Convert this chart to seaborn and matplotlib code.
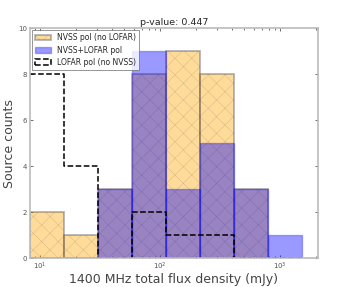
import numpy as np
import pandas as pd
import seaborn as sns
import matplotlib.pyplot as plt
from matplotlib.patches import Patch

# bin edges (mJy), equally spaced in log
bin_edges = [8.26, 15.8, 30.3, 58.2, 111.5, 213.8, 409.3, 785.2, 1506.0]
nvss_only = [2, 1, 3, 8, 9, 8, 3, 0]
nvss_lofar = [0, 0, 3, 9, 3, 5, 3, 1]
lofar_only = [8, 4, 0, 2, 1, 1, 0, 0]

centers = np.sqrt(np.array(bin_edges[:-1]) * np.array(bin_edges[1:]))
df = pd.DataFrame({'flux': centers, 'nvss': nvss_only,
                   'both': nvss_lofar, 'lofar': lofar_only})
log_edges = [float(v) for v in np.log10(bin_edges)]

sns.set_style("ticks")
plt.rcParams['hatch.linewidth'] = 0.2

fig = plt.figure(figsize=(3.54, 2.87), dpi=100)
ax = fig.add_axes([0.085, 0.101, 0.813, 0.801])

sns.histplot(data=df, x='flux', weights='nvss', bins=log_edges, log_scale=True,
             color='orange', alpha=0.4, edgecolor=(0.35, 0.35, 0.35, 0.45), linewidth=1.3,
             hatch='xx', label='NVSS pol (no LOFAR)', ax=ax)
sns.histplot(data=df, x='flux', weights='both', bins=log_edges, log_scale=True,
             color='blue', alpha=0.4, edgecolor=(0.0, 0.0, 1.0, 0.3), linewidth=1.0,
             label='NVSS+LOFAR pol', ax=ax)
sns.histplot(data=df, x='flux', weights='lofar', bins=log_edges, log_scale=True,
             element='step', fill=False, color='black', linestyle='--',
             linewidth=1.1, ax=ax)

ax.set_xlim(8.26, 2056)
ax.set_ylim(0, 10)
ax.set_title('p-value: 0.447', fontsize=6.8, pad=2)
ax.set_xlabel('1400 MHz total flux density (mJy)', fontsize=9, color='#444444', labelpad=1)
ax.set_ylabel('Source counts', fontsize=9, color='#444444', labelpad=2)
ax.tick_params(labelsize=5, colors='#555555', length=2, width=0.6, which='both',
               top=True, right=True, direction='in', pad=2)
ax.tick_params(which='minor', length=1.5)
ax.set_yticks([0, 2, 4, 6, 8, 10])
for s in ax.spines.values():
    s.set_color('#bbbbbb')
    s.set_linewidth(1.2)

handles, labels = ax.get_legend_handles_labels()
handles.append(Patch(fill=False, edgecolor='black', linestyle='--', linewidth=1.1))
labels.append('LOFAR pol (no NVSS)')
leg = ax.legend(handles, labels, loc='upper left', fontsize=5.5, frameon=True,
                fancybox=False, borderpad=0.4, handlelength=2, labelspacing=0.4,
                borderaxespad=0.3)
leg.get_frame().set_edgecolor('#666666')
leg.get_frame().set_linewidth(0.6)

fig.savefig('out.png', dpi=100)
